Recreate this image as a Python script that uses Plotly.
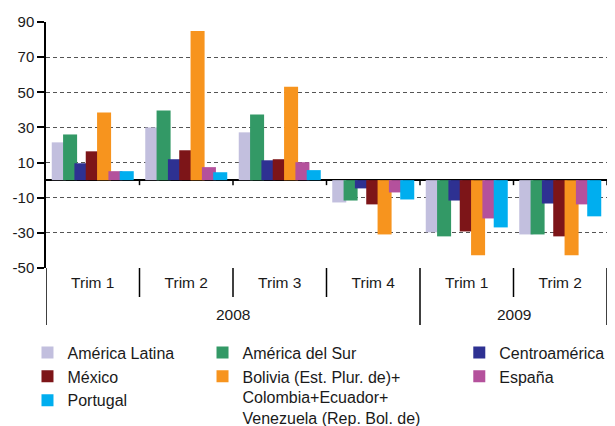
import plotly.graph_objects as go

years = ['2008', '2008', '2008', '2008', '2009', '2009']
trims = ['Trim 1', 'Trim 2', 'Trim 3', 'Trim 4', 'Trim 1', 'Trim 2']

america_latina = [21.5, 30.0, 27.2, -12.7, -29.7, -30.9]
america_sur = [26.0, 39.6, 37.4, -11.6, -32.0, -30.9]
centroamerica = [9.6, 11.9, 11.3, -4.7, -11.6, -13.3]
mexico = [16.4, 17.0, 11.9, -13.8, -29.2, -32.0]
andinos = [38.5, 84.9, 53.2, -30.9, -42.8, -42.8]
espana = [5.1, 7.4, 10.2, -7.0, -21.8, -13.8]
portugal = [5.1, 4.5, 5.7, -11.0, -26.9, -20.6]

y_labels = ['-50', '-30', '-10', '10', '30', '50', '70', '90']
y_min, y_max = -50, 90

# (name, values, colour, which legend column)
series = [
    ('América Latina', america_latina, '#C2BFDE', 'legend'),
    ('América del Sur', america_sur, '#339966', 'legend2'),
    ('Centroamérica', centroamerica, '#2E3192', 'legend3'),
    ('México', mexico, '#7D1518', 'legend'),
    ('Bolivia (Est. Plur. de)+<br>Colombia+Ecuador+<br>Venezuela (Rep. Bol. de)',
     andinos, '#F7941E', 'legend2'),
    ('España', espana, '#B4519C', 'legend3'),
    ('Portugal', portugal, '#00AEEF', 'legend'),
]

n = len(trims)
idx = list(range(n))

# bars overlap a little, like the excel original
bar_w = 0.15
first = -0.4385
step = (2 * -first - bar_w) / (len(series) - 1)

fig = go.Figure()
for i, (name, vals, col, leg) in enumerate(series):
    fig.add_trace(go.Bar(
        x=idx, y=vals, name=name,
        marker=dict(color=col, line_width=0),
        width=bar_w, offset=first + i * step,
        legend=leg, legendgroup=name,
    ))

W, H = 615, 426
mar = dict(l=38, r=16, t=14, b=166)  # the page body adds 8px on the left and top
plot_h = H - mar['t'] - mar['b']
px = 1 / plot_h  # one pixel in paper units (vertical)

fam = 'Liberation Sans, Arial, Helvetica, sans-serif'
font = dict(family=fam, size=15.5, color='#1a1a1a')
legfont = dict(family=fam, size=16, color='#1a1a1a')

# year labels under the quarters
for y in dict.fromkeys(years):
    pos = [i for i in idx if years[i] == y]
    fig.add_annotation(x=sum(pos) / len(pos), y=-46 * px, xref='x', yref='paper',
                       text=y, showarrow=False, font=font, yanchor='middle')

# separators: long ones between years, short ones between quarters,
# little ticks on the zero line
year_bounds = [-0.5] + [i + 0.5 for i in range(n - 1) if years[i] != years[i + 1]] + [n - 0.5]
trim_bounds = [i + 0.5 for i in range(n - 1) if years[i] == years[i + 1]]
zero_p = (0 - y_min) / (y_max - y_min)

line = dict(color='black', width=1.5)
for b in year_bounds:
    fig.add_shape(type='line', xref='x', yref='paper', x0=b, x1=b, y0=0, y1=-57 * px, line=line)
for b in trim_bounds:
    fig.add_shape(type='line', xref='x', yref='paper', x0=b, x1=b, y0=0, y1=-29 * px, line=line)
for b in [i + 0.5 for i in idx]:
    fig.add_shape(type='line', xref='x', yref='paper', x0=b, x1=b,
                  y0=zero_p, y1=zero_p - 5 * px, line=line)

leg_y = -0.275
fig.update_layout(
    width=W, height=H,
    margin=dict(mar, autoexpand=False),
    template='none',
    plot_bgcolor='white', paper_bgcolor='white',
    barmode='overlay',
    font=font,
    xaxis=dict(
        range=[-0.5, n - 0.5], tickvals=idx, ticktext=trims, ticks='',
        showgrid=False, zeroline=False, showline=False,
        tickfont=font, ticklabelstandoff=3,
    ),
    yaxis=dict(
        range=[y_min, y_max], tickvals=[int(t) for t in y_labels], ticktext=y_labels,
        showgrid=True, griddash='4px,3px', gridcolor='#555', gridwidth=1,
        showline=True, linecolor='black', linewidth=1.5,
        ticks='outside', ticklen=7, tickwidth=1.5, tickcolor='black',
        zeroline=True, zerolinecolor='black', zerolinewidth=2,
        tickfont=dict(font, size=15),
    ),
    legend=dict(x=-0.033, y=leg_y, xanchor='left', yanchor='top',
                font=legfont, bgcolor='rgba(0,0,0,0)', valign='top',
                tracegroupgap=0),
    legend2=dict(x=0.279, y=leg_y, xanchor='left', yanchor='top',
                 font=legfont, bgcolor='rgba(0,0,0,0)', valign='top',
                 tracegroupgap=0),
    legend3=dict(x=0.7367, y=leg_y, xanchor='left', yanchor='top',
                 font=legfont, bgcolor='rgba(0,0,0,0)', valign='top',
                 tracegroupgap=0),
)

fig.write_html('out.html')
